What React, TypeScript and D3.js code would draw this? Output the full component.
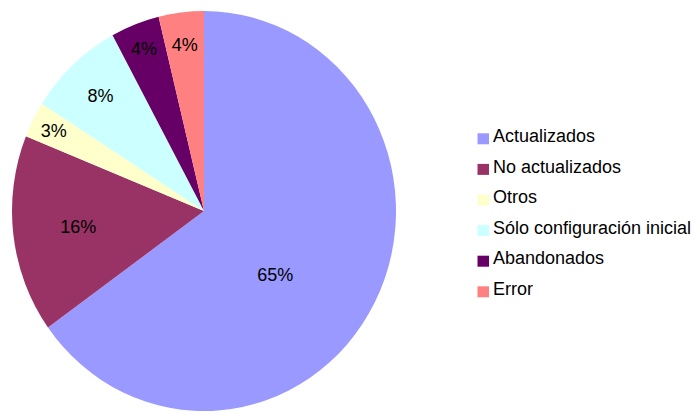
import React from "react";
import * as d3 from "d3";

const categories = [
  "Actualizados",
  "No actualizados",
  "Otros",
  "Sólo configuración inicial",
  "Abandonados",
  "Error",
];
const values = [65.1, 16.0, 2.9, 8.1, 4.1, 3.8];
const colors = ["#9999ff", "#993366", "#ffffcc", "#ccffff", "#660066", "#ff8080"];

// label placement: fraction of radius and angular shift (degrees)
const labelRadius = [0.489, 0.66, 0.88, 0.79, 0.87, 0.84];
const labelShift = [13.4, 0, 0, 0, 0, 0];

const W = 695;
const H = 412;
const cx = 204;
const cy = 211;
const rx = 192;
const ry = 200;

export default function App() {
  const total = d3.sum(values);
  const pie = d3.pie<number>().sort(null).value((d) => d);
  const arcs = pie(values);
  const arc = d3.arc<d3.PieArcDatum<number>>().innerRadius(0).outerRadius(ry);
  const font = "'Liberation Sans', Arial, sans-serif";

  return (
    <svg
      width={W}
      height={H}
      style={{ position: "absolute", left: 0, top: 0, display: "block", background: "#fff" }}
      fontFamily={font}
    >
      <g transform={`translate(${cx},${cy}) scale(${rx / ry},1)`}>
        {arcs.map((a, i) => (
          <path key={i} d={arc(a) || ""} fill={colors[i]} />
        ))}
      </g>
      {arcs.map((a, i) => {
        const mid = (a.startAngle + a.endAngle) / 2 + (labelShift[i] * Math.PI) / 180;
        const f = labelRadius[i];
        const x = cx + Math.sin(mid) * f * rx;
        const y = cy - Math.cos(mid) * f * ry;
        const pct = Math.round((values[i] / total) * 100);
        return (
          <text key={i} x={x} y={y + 6.4} textAnchor="middle" fontSize={18} fill="#000">
            {pct}%
          </text>
        );
      })}
      {categories.map((c, i) => {
        const top = 133.3 + i * 30.6;
        return (
          <g key={c}>
            <rect x={477.5} y={top} width={11.5} height={11} fill={colors[i]} />
            <text x={493} y={top + 8.6} fontSize={18} fill="#000">
              {c}
            </text>
          </g>
        );
      })}
    </svg>
  );
}
